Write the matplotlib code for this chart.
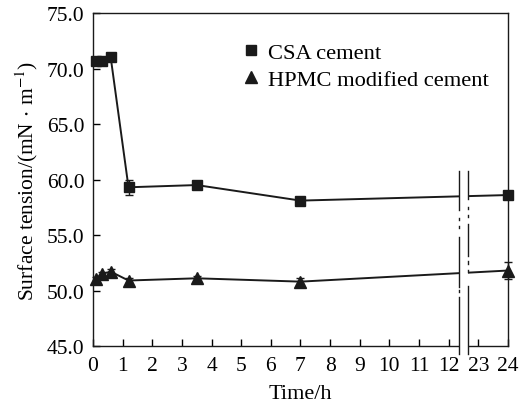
import matplotlib
matplotlib.use("Agg")
import matplotlib.pyplot as plt
import numpy as np
from matplotlib.patches import Rectangle
from matplotlib.lines import Line2D

plt.rcParams['font.family'] = ['Liberation Serif', 'DejaVu Serif']
plt.rcParams['mathtext.fontset'] = 'stix'

# data
time_h = [0.1, 0.3, 0.6, 1.2, 3.5, 7, 24]
csa = [70.7, 70.7, 71.0, 59.3, 59.5, 58.1, 58.6]
csa_err = [0.15, 0.15, 0.15, 0.7, 0.2, 0.2, 0.2]
hpmc = [51.0, 51.5, 51.7, 50.9, 51.1, 50.8, 51.8]
hpmc_err = [0.2, 0.2, 0.2, 0.2, 0.2, 0.35, 0.8]
xtick_vals = [0, 1, 2, 3, 4, 5, 6, 7, 8, 9, 10, 11, 12, 23, 24]
ytick_vals = [45.0, 50.0, 55.0, 60.0, 65.0, 70.0, 75.0]

def tx(x):
    x = np.asarray(x, dtype=float)
    return np.where(x <= 12.5, x, x - 10.0)

fs = 15.5
fig = plt.figure(figsize=(5.25, 4.06), dpi=100)
ax = fig.add_axes([0.177, 0.1453, 0.7906, 0.8202])

col = '#1a1a1a'
for vals, err, mk, ms in [(csa, csa_err, 's', 7.5), (hpmc, hpmc_err, '^', 9)]:
    _, caps, bars = ax.errorbar(tx(time_h), vals, yerr=err, color=col, marker=mk, ms=ms,
                                lw=1.4, capsize=3, elinewidth=1.0, capthick=1.0, zorder=3)
    for c in caps:
        c.set_clip_on(False)
    for b in bars:
        b.set_clip_on(False)
for ln in ax.lines:
    ln.set_clip_on(False)

ax.set_xlim(0, 14)
ax.set_ylim(45, 75)
ax.set_xticks(tx(xtick_vals))
ax.set_xticklabels([str(v) for v in xtick_vals], fontsize=fs)
ax.set_yticks(ytick_vals)
ax.set_yticklabels([f"{v:.1f}" for v in ytick_vals], fontsize=fs)
ax.tick_params(direction='in', length=5, width=1.0, top=False, right=False)
ax.tick_params(axis='y', pad=6)
ax.tick_params(axis='x', pad=7.5)
for s in ax.spines.values():
    s.set_linewidth(1.0)
    s.set_color(col)

ax.set_xlabel('Time/h', fontsize=16, labelpad=6)
ax.set_ylabel(r'Surface tension/(mN$\,\cdot\,$m$^{-1}$)', fontsize=fs, labelpad=5)

# axis break
trans = ax.get_xaxis_transform()
xl, xr = 12.36, 12.66
ax.add_patch(Rectangle((xl, -0.03), xr - xl, 0.56, transform=trans, facecolor='white',
                       edgecolor='none', zorder=5, clip_on=False))
segs_l = [(0.526, 0.408), (0.327, 0.177), (0.147, -0.024)]
dots_l = [0.381, 0.357, 0.165]
segs_r = [(0.526, 0.441), (0.366, 0.27), (0.18, -0.024)]
dots_r = [0.414, 0.39, 0.25, 0.225]
for (xx, segs, dots) in [(xl, segs_l, dots_l), (xr, segs_r, dots_r)]:
    for a, b in segs:
        ax.add_line(Line2D([xx, xx], [a, b], transform=trans, color=col, lw=1.0,
                           zorder=6, clip_on=False))
    for d in dots:
        ax.add_line(Line2D([xx, xx], [d - 0.004, d + 0.004], transform=trans, color=col,
                           lw=1.0, zorder=6, clip_on=False))

handles = [Line2D([], [], color=col, marker='s', ms=7.5, ls='none'),
           Line2D([], [], color=col, marker='^', ms=9, ls='none')]
ax.legend(handles, ['CSA cement', 'HPMC modified cement'], loc='upper left',
          bbox_to_anchor=(0.36, 0.912), frameon=False, fontsize=16.2,
          handlelength=0.8, handletextpad=0.35, labelspacing=0.28,
          borderaxespad=0, borderpad=0)

fig.savefig('out.png', dpi=100)
